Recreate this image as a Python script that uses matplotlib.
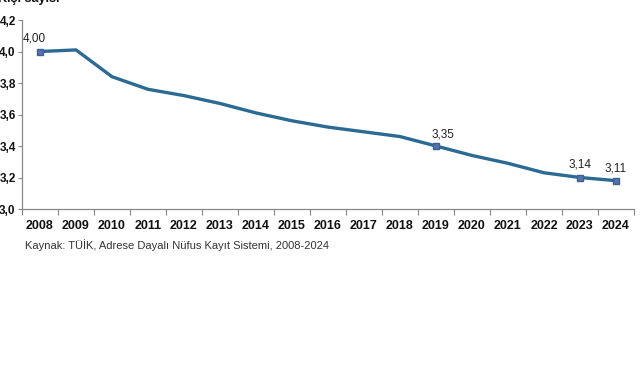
import matplotlib.pyplot as plt
from matplotlib.ticker import FuncFormatter, FixedLocator

years = [str(y) for y in range(2008, 2025)]
# values
hane = [4.00, 4.01, 3.84, 3.76, 3.72, 3.67, 3.61, 3.56, 3.52, 3.49, 3.46, 3.40, 3.34, 3.29, 3.23, 3.20, 3.18]
# data labels as printed on the chart
etiket_idx = [0, 11, 15, 16]
etiket_txt = ['4,00', '3,35', '3,14', '3,11']

plt.rcParams['font.family'] = ['Liberation Sans', 'DejaVu Sans']

fig = plt.figure(figsize=(6.41, 3.80), dpi=100)
ax = fig.add_axes([22/641, 1 - 209/380, 612/641, 189/380])

x = list(range(len(years)))
ax.plot(x, hane, color='#2b6a93', lw=2.4, solid_joinstyle='round', zorder=2)
ax.plot([x[i] for i in etiket_idx], [hane[i] for i in etiket_idx], 's',
        ms=5, color='#5573aa', mec='#3f5f95', zorder=3)

offs = [(-0.15, 0.085), (0.2, 0.075), (0.0, 0.085), (0.0, 0.08)]
for i, t, o in zip(etiket_idx, etiket_txt, offs):
    ax.text(x[i] + o[0], hane[i] + o[1], t, ha='center', va='center',
            fontsize=8.5, color='#222222')

ax.set_xlim(-0.5, len(years) - 0.5)
ax.set_ylim(3.0, 4.2)
ax.set_yticks([3.0, 3.2, 3.4, 3.6, 3.8, 4.0, 4.2])
ax.yaxis.set_major_formatter(FuncFormatter(lambda v, p: f'{v:.1f}'.replace('.', ',')))
ax.xaxis.set_major_locator(FixedLocator([i - 0.5 for i in range(len(years) + 1)]))
ax.xaxis.set_major_formatter(FuncFormatter(lambda v, p: ''))
ax.xaxis.set_minor_locator(FixedLocator(x))
ax.set_xticklabels(years, minor=True)
ax.tick_params(axis='x', which='minor', length=0, pad=8, labelsize=9, labelcolor='#111111')
ax.tick_params(axis='x', which='major', length=4, color='#888888')
ax.tick_params(axis='y', length=3, color='#888888', pad=1.5, labelsize=8.5, labelcolor='#111111')
for lab in ax.get_xticklabels(minor=True) + ax.get_yticklabels():
    lab.set_fontweight('bold')

for s in ['top', 'right']:
    ax.spines[s].set_visible(False)
for s in ['left', 'bottom']:
    ax.spines[s].set_color('#888888')
    ax.spines[s].set_linewidth(0.9)

fig.text(-2/641, 1 + 1/380, 'Kişi sayısı', fontsize=9, fontweight='bold',
         ha='left', va='center', color='#111111')
fig.text(25/641, 1 - 245/380, 'Kaynak: TÜİK, Adrese Dayalı Nüfus Kayıt Sistemi, 2008-2024',
         fontsize=8, ha='left', va='center', color='#333333')

fig.savefig('out.png', dpi=100)
